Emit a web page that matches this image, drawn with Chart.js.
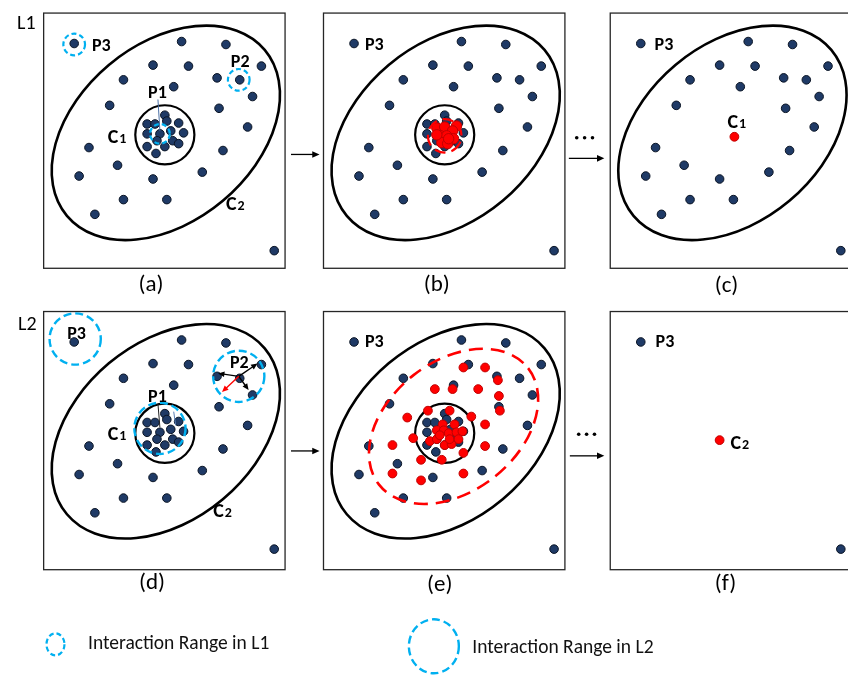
<!DOCTYPE html>
<html>
<head>
<meta charset="utf-8">
<title>Two-level interaction clustering</title>
<script src="https://cdn.jsdelivr.net/npm/chart.js@4.4.1/dist/chart.umd.min.js"></script>
<style>
  html, body { margin: 0; padding: 0; background: #fff; }
  #wrap { width: 848px; height: 680px; position: relative; }
</style>
</head>
<body>
<div id="wrap"><canvas id="fig"></canvas></div>
<script>
// all point positions are panel-local, measured from the top-left corner of each box
const clusterPts = [
    [140, 29], [185, 32], [111, 53], [147, 54], [221, 54], [81, 68], [176, 66], [199, 68],
    [132, 75], [212, 85], [67, 94], [178, 97], [207, 116], [46, 137], [182, 140], [75, 155],
    [36, 166], [111, 169], [161, 162], [81, 190], [125, 190], [52, 205],
];
const corePts = [
    [123, 104], [105, 113], [113, 113], [125, 110], [137, 112], [105, 123], [118, 123], [129, 120],
    [142, 122], [115, 130], [131, 130], [105, 136], [123, 136], [137, 133], [114, 143],
];
const outlierPts = [[31, 31], [234, 242]];   // P3 and the far corner point

const mergedL1 = [
    [115, 117], [123, 116], [135, 115], [131, 120], [119, 125], [125, 125],
    [132, 128], [120, 132], [126, 133], [115, 124], [127, 128],
];
const mergedL2Outer = [
    [142, 57], [164, 57], [177, 70], [113, 79], [131, 79], [157, 79], [178, 86], [179, 101],
    [106, 101], [128, 101], [85, 108], [150, 107], [164, 115], [91, 129], [70, 136], [164, 137],
    [142, 144], [99, 151], [120, 151], [70, 165], [142, 165], [99, 172],
];
const mergedL2Core = [
    [121, 115], [133, 115], [115, 121], [122, 121], [127, 124], [135, 123], [141, 122],
    [108, 132], [115, 130], [123, 136], [130, 135], [128, 130], [118, 126], [137, 130],
];
const c1Centre = [126, 126];
const c2Centre = [111, 131];

const captions = ['(a)', '(b)', '(c)', '(d)', '(e)', '(f)'];
const levels = ['L1', 'L2'];
const legendTexts = ['Interaction Range in L1', 'Interaction Range in L2'];

// panel, text, left x, centre y
const tags = [
    [0, 'P3', 49, 32], [0, 'P2', 190, 48], [0, 'P1', 106, 80], [0, 'C1', 65, 125], [0, 'C2', 185, 193],
    [1, 'P3', 42, 31],
    [2, 'P3', 45, 31], [2, 'C1', 119, 110],
    [3, 'P3', 24, 21], [3, 'P2', 189, 51], [3, 'P1', 106, 86], [3, 'C1', 65, 124], [3, 'C2', 172, 202],
    [4, 'P3', 42, 30],
    [5, 'P3', 46, 30], [5, 'C2', 122, 133],
];

// layout
const PANEL_X = [38, 322, 613];
const PANEL_Y = [7, 311];
const PANEL_W = 245;
const PANEL_H = [259, 262];
const FONT = "Carlito, Lato, 'Open Sans', sans-serif";
const NAVY = '#1f3a66';
const SKY = '#00b0f0';
const RED = '#ff0000';

const C2_RING = { cx: 124, cy: 122, a: 131, b: 90, tilt: 40 };
const C1_RING = { cx: 123, cy: 124, r: 30 };
const L2_RED_RING = { cx: 132, cy: 117, a: 96, b: 66, tilt: 38 };

function origin(i) {
    return [PANEL_X[i % 3], PANEL_Y[Math.floor(i / 3)]];
}

const bluePanels = [
    [...clusterPts, ...corePts, ...outlierPts],
    [...clusterPts, ...corePts, ...outlierPts],
    [...clusterPts, ...outlierPts],
    [...clusterPts, ...corePts, ...outlierPts],
    [...clusterPts, ...corePts, ...outlierPts],
    [...outlierPts],
];
const redPanels = [[], mergedL1, [c1Centre], [], [...mergedL2Outer, ...mergedL2Core], [c2Centre]];

function toData(i, list) {
    const [ox, oy] = origin(i);
    return list.map(([x, y]) => ({ x: ox + x, y: oy + y }));
}

const datasets = [];
redPanels.forEach((list, i) => {
    if (!list.length) return;
    datasets.push({
        data: toData(i, list),
        backgroundColor: RED,
        borderColor: '#c00000',
        borderWidth: 1,
        pointRadius: i === 1 ? 5.2 : 4.4,
        clip: false,
    });
});
bluePanels.forEach((list, i) => {
    datasets.push({
        data: toData(i, list),
        backgroundColor: NAVY,
        borderColor: '#0a1424',
        borderWidth: 1,
        pointRadius: 4.3,
        clip: false,
    });
});

function px(chart, i, x, y) {
    const [ox, oy] = origin(i);
    return [chart.scales.x.getPixelForValue(ox + x), chart.scales.y.getPixelForValue(oy + y)];
}
function absPx(chart, x, y) {
    return [chart.scales.x.getPixelForValue(x), chart.scales.y.getPixelForValue(y)];
}
function unit(chart) {
    return chart.scales.x.getPixelForValue(1) - chart.scales.x.getPixelForValue(0);
}

function ellipse(ctx, x, y, rx, ry, rot, color, width, dash) {
    ctx.save();
    ctx.beginPath();
    ctx.ellipse(x, y, rx, ry, rot, 0, Math.PI * 2);
    ctx.strokeStyle = color;
    ctx.lineWidth = width;
    ctx.setLineDash(dash || []);
    ctx.stroke();
    ctx.restore();
}

function arrow(ctx, x1, y1, x2, y2, color, width, head) {
    const ang = Math.atan2(y2 - y1, x2 - x1);
    ctx.save();
    ctx.strokeStyle = color;
    ctx.fillStyle = color;
    ctx.lineWidth = width;
    ctx.beginPath();
    ctx.moveTo(x1, y1);
    ctx.lineTo(x2 - Math.cos(ang) * head * 0.8, y2 - Math.sin(ang) * head * 0.8);
    ctx.stroke();
    ctx.beginPath();
    ctx.moveTo(x2, y2);
    ctx.lineTo(x2 - head * Math.cos(ang - 0.42), y2 - head * Math.sin(ang - 0.42));
    ctx.lineTo(x2 - head * Math.cos(ang + 0.42), y2 - head * Math.sin(ang + 0.42));
    ctx.closePath();
    ctx.fill();
    ctx.restore();
}

function drawTag(ctx, x, cy, text) {
    const big = text[0] === 'C' ? 20 : 18;
    const base = cy + big * 0.36;
    ctx.fillStyle = '#000';
    ctx.textBaseline = 'alphabetic';
    ctx.textAlign = 'left';
    if (text[0] === 'C') {
        ctx.font = `bold ${big}px ${FONT}`;
        ctx.fillText(text[0], x, base);
        const w = ctx.measureText(text[0]).width;
        ctx.font = `bold 14px ${FONT}`;
        ctx.fillText(text.slice(1), x + w + 1, base);
    } else {
        ctx.font = `bold ${big}px ${FONT}`;
        ctx.fillText(text, x, base);
    }
}

const diagram = {
    id: 'diagram',
    beforeDatasetsDraw(chart) {
        const ctx = chart.ctx;
        const u = unit(chart);
        for (let i = 0; i < 6; i++) {
            const [x0, y0] = px(chart, i, 0, 0);
            const h = PANEL_H[Math.floor(i / 3)];
            ctx.save();
            ctx.strokeStyle = '#262626';
            ctx.lineWidth = 1.3;
            ctx.strokeRect(x0, y0, PANEL_W * u, h * u);
            ctx.restore();
            if (i !== 5) {
                const [ex, ey] = px(chart, i, C2_RING.cx, C2_RING.cy);
                ellipse(ctx, ex, ey, C2_RING.a * u, C2_RING.b * u, -C2_RING.tilt * Math.PI / 180, '#000', 2.6);
            }
            if (i === 0 || i === 1 || i === 3 || i === 4) {
                const [cx, cy] = px(chart, i, C1_RING.cx, C1_RING.cy);
                ellipse(ctx, cx, cy, C1_RING.r * u, C1_RING.r * u, 0, '#000', 2.2);
            }
        }
    },
    afterDatasetsDraw(chart) {
        const ctx = chart.ctx;
        const u = unit(chart);

        // interaction ranges
        const rangeL1 = [[0, 31, 32, 11], [0, 198, 68, 11], [0, 118, 123, 10]];
        const rangeL2 = [[3, 32, 28, 26], [3, 198, 66, 26], [3, 118, 119, 26]];
        rangeL1.forEach(([i, x, y, r]) => {
            const [cx, cy] = px(chart, i, x, y);
            ellipse(ctx, cx, cy, r * u, r * u, 0, SKY, 2.2, [5, 3]);
        });
        rangeL2.forEach(([i, x, y, r]) => {
            const [cx, cy] = px(chart, i, x, y);
            ellipse(ctx, cx, cy, r * u, r * u, 0, SKY, 2.4, [8, 4]);
        });

        // merged regions
        {
            const [cx, cy] = px(chart, 1, 123, 125);
            ellipse(ctx, cx, cy, 17 * u, 17 * u, 0.5, RED, 2.2, [11, 6]);
            const [ex, ey] = px(chart, 4, L2_RED_RING.cx, L2_RED_RING.cy);
            ellipse(ctx, ex, ey, L2_RED_RING.a * u, L2_RED_RING.b * u, -L2_RED_RING.tilt * Math.PI / 180, RED, 2.6, [14, 8]);
        }

        // P1 pointer lines
        const pointers = [[0, 116, 88, 118, 120, '#4a6fa5'], [3, 116, 94, 118, 118, '#222'], [3, 132, 102, 134, 116, '#5b7fb5']];
        pointers.forEach(([i, x1, y1, x2, y2, col]) => {
            const [a1, b1] = px(chart, i, x1, y1);
            const [a2, b2] = px(chart, i, x2, y2);
            ctx.save();
            ctx.strokeStyle = col;
            ctx.lineWidth = 1;
            ctx.beginPath();
            ctx.moveTo(a1, b1);
            ctx.lineTo(a2, b2);
            ctx.stroke();
            ctx.restore();
        });

        // P2 interactions in L2
        const p2Arrows = [[217, 53, '#000'], [177, 63, '#000'], [208, 80, '#000'], [181, 82, RED]];
        const [sx, sy] = px(chart, 3, 198, 66);
        p2Arrows.forEach(([x, y, col]) => {
            const [tx, ty] = px(chart, 3, x, y);
            arrow(ctx, sx, sy, tx, ty, col, 1.4, 7);
        });

        // labels inside panels
        tags.forEach(([i, text, x, y]) => {
            const [lx, ly] = px(chart, i, x, y);
            drawTag(ctx, lx, ly, text);
        });

        // captions and level names
        const capPos = [[147, 284], [437, 284], [731, 285], [148, 588], [440, 590], [730, 589]];
        ctx.save();
        ctx.fillStyle = '#000';
        ctx.textAlign = 'center';
        ctx.textBaseline = 'middle';
        ctx.font = `23px ${FONT}`;
        captions.forEach((t, k) => {
            const [x, y] = absPx(chart, capPos[k][0], capPos[k][1]);
            ctx.fillText(t, x, y);
        });
        ctx.textAlign = 'left';
        ctx.font = `20px ${FONT}`;
        [[11, 18], [12, 325]].forEach(([x, y], k) => {
            const [lx, ly] = absPx(chart, x, y);
            ctx.fillText(levels[k], lx, ly);
        });
        ctx.restore();

        // flow arrows between panels
        const flows = [[289, 151, 318, 151], [571, 155, 607, 155], [289, 453, 318, 453], [572, 458, 607, 458]];
        flows.forEach(([x1, y1, x2, y2]) => {
            const [a1, b1] = absPx(chart, x1, y1);
            const [a2, b2] = absPx(chart, x2, y2);
            arrow(ctx, a1, b1, a2, b2, '#000', 1.3, 8);
        });
        const ellipsisDots = [[579, 134], [587, 134], [595, 134], [581, 436], [589, 436], [597, 436]];
        ctx.save();
        ctx.fillStyle = '#000';
        ellipsisDots.forEach(([x, y]) => {
            const [dx, dy] = absPx(chart, x, y);
            ctx.beginPath();
            ctx.arc(dx, dy, 1.8, 0, Math.PI * 2);
            ctx.fill();
        });
        ctx.restore();

        // legend
        const [l1x, l1y] = absPx(chart, 50, 650);
        ellipse(ctx, l1x, l1y, 9, 11, 0, SKY, 2.2, [5, 3]);
        const [l2x, l2y] = absPx(chart, 434, 652);
        ellipse(ctx, l2x, l2y, 25, 27, 0, SKY, 2.4, [8, 4]);
        ctx.save();
        ctx.fillStyle = '#111';
        ctx.textBaseline = 'middle';
        ctx.font = `19.5px ${FONT}`;
        let [tx, ty] = absPx(chart, 83, 650);
        ctx.fillText(legendTexts[0], tx, ty);
        [tx, ty] = absPx(chart, 473, 654);
        ctx.fillText(legendTexts[1], tx, ty);
        ctx.restore();
    },
};

new Chart(document.getElementById('fig'), {
    type: 'scatter',
    data: { datasets },
    options: {
        responsive: true,
        maintainAspectRatio: false,
        animation: false,
        events: [],
        layout: { padding: 0 },
        plugins: { legend: { display: false }, tooltip: { enabled: false } },
        scales: {
            x: { type: 'linear', min: 0, max: 848, display: false },
            y: { type: 'linear', min: 0, max: 680, reverse: true, display: false },
        },
    },
    plugins: [diagram],
});
</script>
</body>
</html>
